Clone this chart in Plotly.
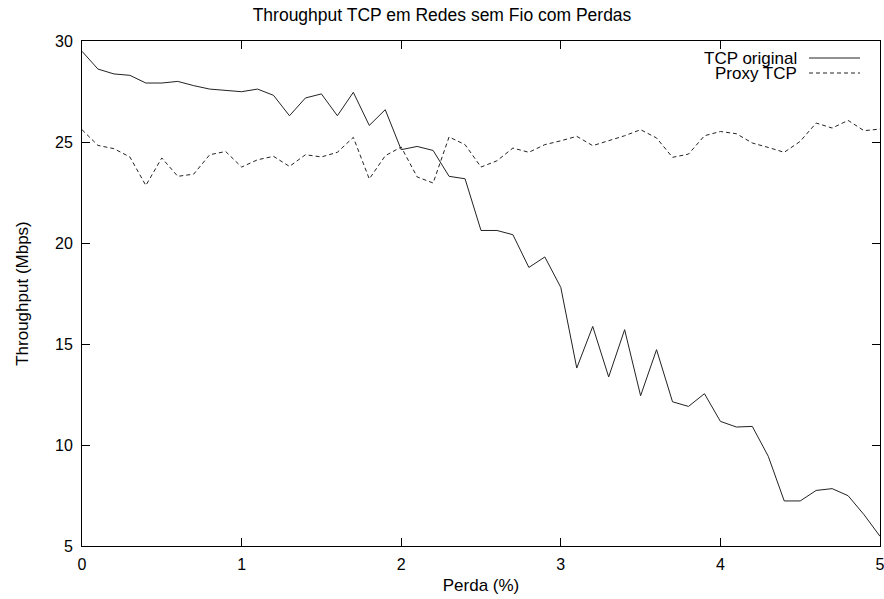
import plotly.graph_objects as go

perda = [round(i * 0.1, 1) for i in range(51)]
tcp_original = [29.49, 28.61, 28.37, 28.30, 27.92, 27.92, 28.00, 27.79, 27.62, 27.54,
                27.49, 27.62, 27.31, 26.30, 27.18, 27.38, 26.30, 27.46, 25.82, 26.60,
                24.62, 24.78, 24.58, 23.30, 23.18, 20.62, 20.62, 20.41, 18.79, 19.31,
                17.80, 13.81, 15.87, 13.37, 15.71, 12.44, 14.72, 12.14, 11.91, 12.54,
                11.17, 10.89, 10.92, 9.44, 7.23, 7.23, 7.75, 7.84, 7.49, 6.55, 5.48]
proxy_tcp = [25.61, 24.83, 24.67, 24.26, 22.85, 24.21, 23.30, 23.41, 24.37, 24.53,
             23.76, 24.12, 24.29, 23.79, 24.37, 24.26, 24.49, 25.23, 23.17, 24.32,
             24.75, 23.27, 22.97, 25.25, 24.87, 23.76, 24.07, 24.70, 24.49, 24.87,
             25.06, 25.28, 24.82, 25.05, 25.31, 25.61, 25.20, 24.24, 24.40, 25.31,
             25.52, 25.41, 24.95, 24.73, 24.49, 25.03, 25.94, 25.69, 26.07, 25.56, 25.64]
x_ticks = [0, 1, 2, 3, 4, 5]
y_ticks = [5, 10, 15, 20, 25, 30]

FONT = "Liberation Sans"
TXT = dict(family=FONT, size=17, color="black")

W, H = 884, 599
L, R, T, B = 82, 880, 41.3, 546.3  # plot-area edges in pixels


def px_x(px):
    return (px - L) / (R - L)


def px_y(py):
    return (B - py) / (B - T)


fig = go.Figure()
fig.add_trace(go.Scatter(x=perda, y=tcp_original, mode="lines", name="TCP original",
                         line=dict(color="#222222", width=1), showlegend=False,
                         cliponaxis=False))
fig.add_trace(go.Scatter(x=perda, y=proxy_tcp, mode="lines", name="Proxy TCP",
                         line=dict(color="#222222", width=1, dash="4px,3px"), showlegend=False,
                         cliponaxis=False))

axis_common = dict(showgrid=False, zeroline=False, showline=True, linecolor="black",
                   linewidth=1, mirror="ticks", ticks="inside", ticklen=8,
                   tickcolor="black", tickwidth=1, automargin=False,
                   ticklabeloverflow="allow",
                   tickfont=dict(family=FONT, size=16, color="black"))

fig.update_layout(
    width=W, height=H,
    paper_bgcolor="white", plot_bgcolor="white",
    margin=dict(l=L, r=W - R, t=T, b=H - B),
    title=dict(text="Throughput TCP em Redes sem Fio com Perdas", x=0.5, xanchor="center",
               y=1 - 14.5 / H, yanchor="middle", font=dict(family=FONT, size=17.5, color="black")),
    xaxis=dict(range=[0, 5], tickvals=x_ticks, ticktext=[str(v) for v in x_ticks],
               ticklabelstandoff=4,
               title=dict(text="Perda (%)", font=TXT, standoff=6),
               **axis_common),
    yaxis=dict(range=[5, 30], tickvals=y_ticks, ticktext=[str(v) for v in y_ticks],
               ticklabelstandoff=5,
               title=dict(text="Throughput (Mbps)", font=TXT, standoff=22),
               **axis_common),
)

# Legend (gnuplot style: text on the left, line sample on the right)
legend_items = [("TCP original", "solid", 58.3), ("Proxy TCP", "4px,3px", 73.3)]
for label, dash, py in legend_items:
    yy = px_y(py)
    fig.add_annotation(x=px_x(798), y=yy, xref="paper", yref="paper", text=label,
                       showarrow=False, xanchor="right", yanchor="middle",
                       borderpad=0, font=TXT)
    fig.add_shape(type="line", xref="paper", yref="paper", x0=px_x(809), x1=px_x(860),
                  y0=yy, y1=yy, line=dict(color="#222222", width=1, dash=dash))

fig.write_html("out.html",
               config={"displayModeBar": False},
               post_script="document.body.style.margin='0';document.body.style.overflow='hidden';")
